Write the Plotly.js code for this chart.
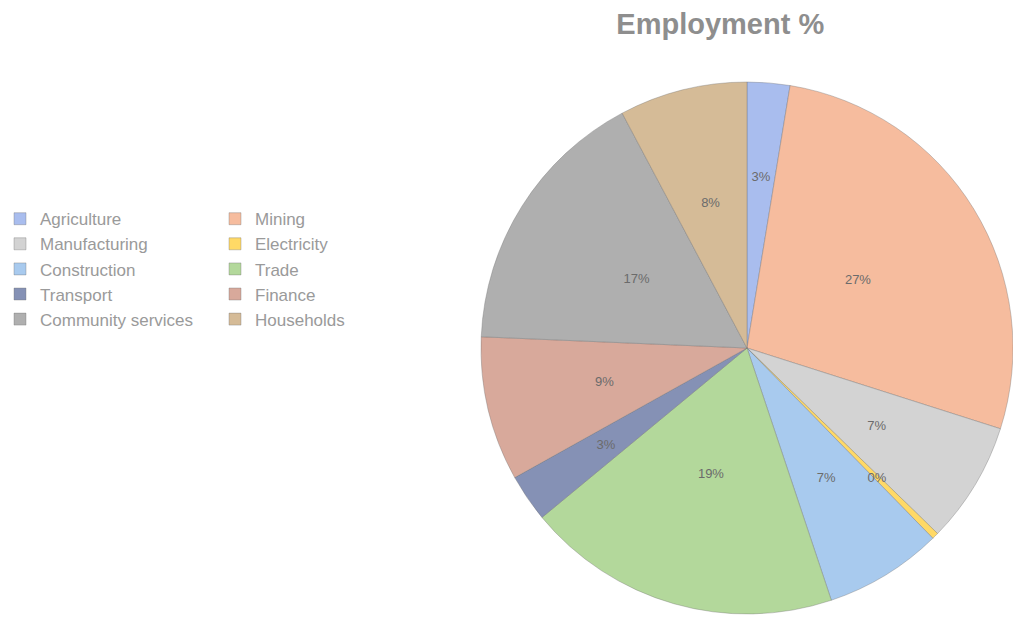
<!DOCTYPE html>
<html>
<head>
<meta charset="utf-8">
<script src="https://cdn.plot.ly/plotly-3.0.1.min.js"></script>
<style>html,body{margin:0;padding:0;background:#fff;}#chart{width:1013px;height:621px;}</style>
</head>
<body>
<div id="chart"></div>
<script>
const sectors = ["Agriculture","Mining","Manufacturing","Electricity","Construction","Trade","Transport","Finance","Community services","Households"];
const employment = [2.6, 27.4, 7.4, 0.4, 7.2, 19.2, 2.9, 8.8, 16.6, 7.8];
const sliceColors = ["#a9bdee","#f6bc9e","#d3d3d3","#ffd966","#a8caee","#b3d89b","#8591b5","#d8a99b","#afafaf","#d5bb97"];
const chartTitle = "Employment %";

// main pie: slices + legend
const pieTrace = {
  type: "pie",
  labels: sectors,
  values: employment,
  sort: false,
  direction: "clockwise",
  rotation: 0,
  marker: {colors: sliceColors, line: {color: "rgba(110,110,110,0.35)", width: 1}},
  textinfo: "none",
  hoverinfo: "label+percent",
  domain: {x: [0, 1], y: [0, 1]}
};

// transparent overlay of the same data, only used to place the percent labels nearer mid-radius
const labelTrace = {
  type: "pie",
  labels: sectors,
  values: employment,
  sort: false,
  direction: "clockwise",
  rotation: 0,
  hole: 0.4,
  showlegend: false,
  marker: {colors: sectors.map(() => "rgba(0,0,0,0)"), line: {width: 0}},
  texttemplate: "%{percent:.0%}",
  textposition: "inside",
  insidetextorientation: "horizontal",
  insidetextfont: {family: "Liberation Sans, Arial, sans-serif", size: 13, color: "#6b6b6b"},
  hoverinfo: "skip",
  domain: {x: [0.15, 0.85], y: [0.155, 0.845]}
};

const layout = {
  width: 1013,
  height: 621,
  margin: {l: 480, r: 0, t: 78, b: 3},
  paper_bgcolor: "#ffffff",
  plot_bgcolor: "#ffffff",
  title: {
    text: "<b>" + chartTitle + "</b>",
    x: 0.711, xanchor: "center",
    y: 0.962, yanchor: "middle",
    font: {family: "Liberation Sans, Arial, sans-serif", size: 29, color: "#8e8e8e"}
  },
  uniformtext: {minsize: 13, mode: "show"},
  showlegend: true,
  legend: {
    orientation: "h",
    x: -0.905, xanchor: "left",
    y: 0.646, yanchor: "middle",
    entrywidth: 170,
    entrywidthmode: "pixels",
    traceorder: "normal",
    font: {family: "Liberation Sans, Arial, sans-serif", size: 17, color: "#9a9a9a"},
    bgcolor: "rgba(0,0,0,0)"
  }
};

Plotly.newPlot("chart", [pieTrace, labelTrace], layout, {displayModeBar: false, staticPlot: true});
</script>
</body>
</html>
